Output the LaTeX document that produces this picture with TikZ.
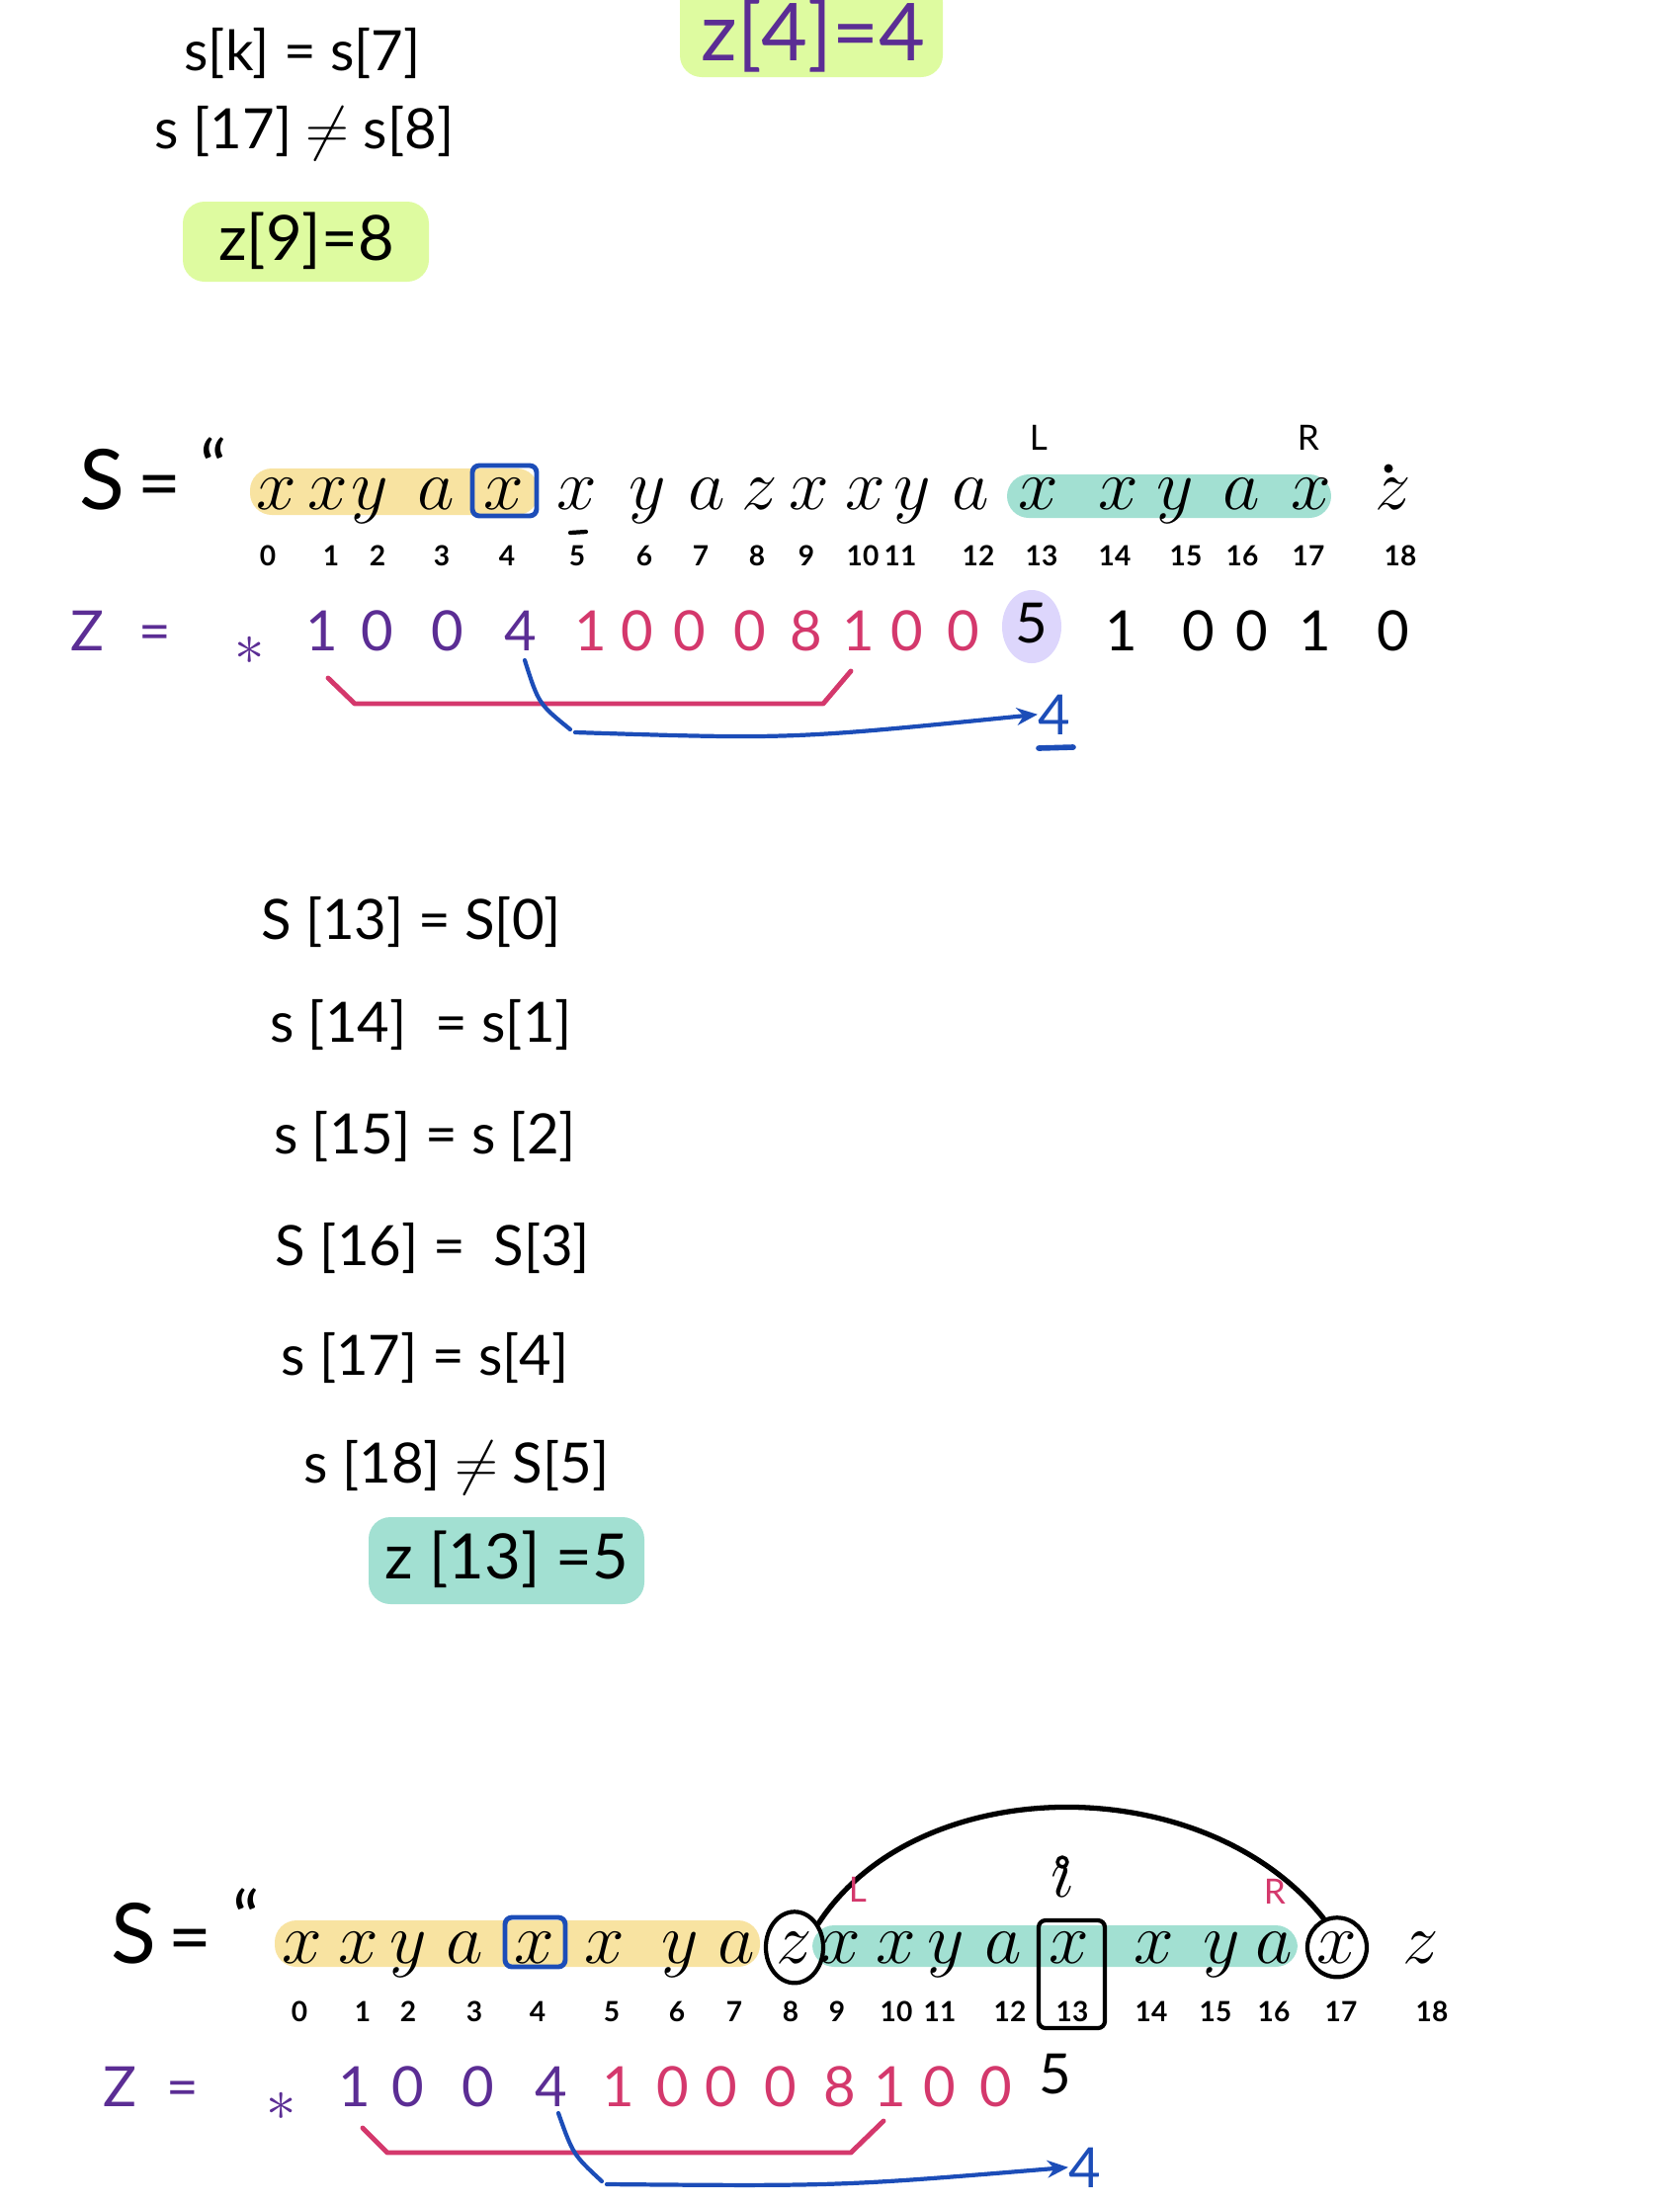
\documentclass[tikz,border=0pt]{standalone}
\usepackage[no-math]{fontspec}
\setmainfont{Lato}
\usetikzlibrary{arrows.meta,calc,shapes.geometric}
\definecolor{hlyellow}{HTML}{F8E3A1}
\definecolor{hlteal}{HTML}{A2E0D2}
\definecolor{hllime}{HTML}{DEFBA0}
\definecolor{hllav}{HTML}{DDD6FC}
\definecolor{zpurple}{HTML}{5B2D94}
\definecolor{zpink}{HTML}{D4386C}
\definecolor{zblue}{HTML}{1C4DB8}
\begin{document}
\begin{tikzpicture}[x=0.01cm,y=-0.01cm,
  ch/.style={anchor=base,inner sep=0pt,font=\fontsize{21.5}{23}\selectfont},
  big/.style={anchor=base,inner sep=0pt,font=\fontsize{24}{26}\selectfont},
  ix/.style={anchor=base,inner sep=0pt,font=\fontsize{8}{9}\selectfont\bfseries},
  zv/.style={anchor=base,inner sep=0pt,font=\fontsize{16}{17}\selectfont},
  eqn/.style={inner sep=0pt,font=\fontsize{16}{18}\selectfont},
  lbl/.style={anchor=base,inner sep=0pt,font=\fontsize{10}{11}\selectfont},
  pen/.style={line width=1.2pt,line cap=round,line join=round},
  hl/.style={rounded corners=0.22cm},
]
\useasboundingbox (0,0) rectangle (1700,2232);

% ---------- top notes ----------
\node[eqn] (t1) at (306,54) {s[k] = s[7]};
\node[eqn] (t2) at (308,135) {s [17] $\neq$ s[8]};
\fill[hllime,hl] (185,204) rectangle (434,285);
\node[eqn,font=\fontsize{18}{20}\selectfont] (t3) at (310,244) {z[9]=8};
\fill[hllime,hl] (688,-20) rectangle (954,78);
\node[eqn,text=zpurple,font=\fontsize{23}{25}\selectfont] (t4) at (823,36) {z[4]=4};

% ---------- first string ----------
\fill[hlyellow,hl] (253,474) rectangle (545,521);
\fill[hlteal,hl] (1019,480) rectangle (1347,524);
\fill[hllav] (1044,634) ellipse [x radius=0.30cm, y radius=0.37cm];

\node[big] (sla) at (103,515) {S};
\node[ch] (sea) at (161,515) {=};
\node[ch] (sqa) at (216,500) {“};
\foreach \p/\c [count=\i from 0] in {280/x,332/x,374/y,441/a,510/x,584/x,655/y,715/a,769/z,819/x,876/x,923/y,982/a,1051/x,1132/x,1189/y,1256/a,1327/x,1410/z}
  \node[ch] (sa\i) at (\p,515) {$\c$};
\fill (1405,474) circle [radius=0.045cm];
\draw[zblue,pen,line width=1.4pt,rounded corners=2pt] (478,471) rectangle (543,522);
\coordinate (ula) at (577,539); \coordinate (ulb) at (593,538);
\draw[pen] (ula) -- (ulb);
\node[lbl] (La) at (1051,455) {L};
\node[lbl] (Ra) at (1324,455) {R};

\foreach \p [count=\i from 0] in {271,335,382,447,513,584,652,709,766,816,873,911,990,1054,1128,1200,1257,1324,1417}
  \node[ix] (ia\i) at (\p,572) {\i};

\node[zv,text=zpurple] (zla) at (88,658) {Z};
\node[zv,text=zpurple] (zea) at (157,658) {=};
\node[zv,text=zpurple] (za0) at (253,672) {$\ast$};
\foreach \p/\v [count=\i from 1] in {326/1,382/0,453/0,527/4}
  \node[zv,text=zpurple] (za\i) at (\p,658) {\v};
\foreach \p/\v [count=\i from 5] in {598/1,645/0,698/0,759/0,816/8,869/1,918/0,975/0}
  \node[zv,text=zpink] (za\i) at (\p,658) {\v};
\node[zv] (za13) at (1044,650) {5};
\foreach \p/\v [count=\i from 14] in {1135/1,1213/0,1267/0,1331/1,1410/0}
  \node[zv] (za\i) at (\p,658) {\v};

\coordinate (pa1) at (332,686); \coordinate (pa2) at (359,712);
\coordinate (pa3) at (833,712); \coordinate (pa4) at (861,679);
\draw[pen,zpink,line width=1.4pt] (pa1) -- (pa2) -- (pa3) -- (pa4);
\node[zv,text=zblue] (ba) at (1067,743) {4};
\coordinate (bua) at (1051,757); \coordinate (bub) at (1086,756);
\draw[pen,zblue,line width=1.6pt] (bua) -- (bub);
\coordinate (ba1) at (531,668); \coordinate (ba2) at (577,738); \coordinate (ba3) at (582,741);
\draw[pen,zblue] (ba1) .. controls (545,712) .. (ba2);
\draw[pen,zblue,-{Stealth[length=6pt,width=5pt]}] (ba3) .. controls (800,748) .. (ba.west);

% ---------- middle equations ----------
\node[eqn] (m1) at (416,933) {S [13] = S[0]};
\node[eqn] (m2) at (426,1037) {s [14] \ = s[1]};
\node[eqn] (m3) at (430,1150) {s [15] = s [2]};
\node[eqn] (m4) at (438,1263) {S [16] = \ S[3]};
\node[eqn] (m5) at (430,1374) {s [17] = s[4]};
\node[eqn] (m6) at (462,1485) {s [18] $\neq$ S[5]};
\fill[hlteal,hl] (373,1535) rectangle (652,1623);
\node[eqn,font=\fontsize{18}{20}\selectfont] (m7) at (513,1578) {z [13] =5};

% ---------- second string ----------
\fill[hlyellow,hl] (278,1943) rectangle (769,1990);
\fill[hlteal,hl] (822,1948) rectangle (1313,1990);

\node[big] (slb) at (135,1986) {S};
\node[ch] (seb) at (192,1986) {=};
\node[ch] (sqb) at (249,1968) {“};
\foreach \p/\c [count=\i from 0] in {306/x,363/x,413/y,470/a,541/x,612/x,688/y,745/a}
  \node[ch] (sb\i) at (\p,1986) {$\c$};
\node[ch,draw,pen,ellipse,minimum width=0.58cm,minimum height=0.72cm] (sb8) at (804,1986) {$z$};
\foreach \p/\c [count=\i from 9] in {851/x,907/x,957/y,1015/a,1082/x,1168/x,1236/y,1289/a}
  \node[ch] (sb\i) at (\p,1986) {$\c$};
\node[ch,draw,pen,circle,minimum size=0.60cm] (sb17) at (1353,1986) {$x$};
\node[ch] (sb18) at (1438,1986) {$z$};
\draw[zblue,pen,line width=1.4pt,rounded corners=2pt] (511,1940) rectangle (572,1990);
\draw[pen,line width=1.5pt] (sb8.45) .. controls (930,1790) and (1220,1790) .. (sb17.115);
\node[lbl,text=zpink] (Lb) at (868,1924) {L};
\node[lbl,text=zpink] (Rb) at (1290,1926) {R};
\node[ch] (ip) at (1075,1919) {$\imath$};
\draw[pen,line width=1pt] (1075,1884) circle [radius=0.05cm];

\foreach \p [count=\i from 0] in {303,367,413,480,544,619,685,743,800,847,907,951,1022,1085,1165,1230,1289,1357,1449}
  \node[ix] (ib\i) at (\p,2045) {\i};
\draw[pen,rounded corners=2pt] (1051,1943) rectangle (1118,2052);

\node[zv,text=zpurple] (zlb) at (121,2131) {Z};
\node[zv,text=zpurple] (zeb) at (185,2131) {=};
\node[zv,text=zpurple] (zb0) at (285,2145) {$\ast$};
\foreach \p/\v [count=\i from 1] in {359/1,413/0,484/0,558/4}
  \node[zv,text=zpurple] (zb\i) at (\p,2131) {\v};
\foreach \p/\v [count=\i from 5] in {626/1,681/0,730/0,790/0,850/8,901/1,951/0,1008/0}
  \node[zv,text=zpink] (zb\i) at (\p,2131) {\v};
\node[zv] (zb13) at (1068,2118) {5};

\coordinate (pb1) at (367,2153); \coordinate (pb2) at (392,2178);
\coordinate (pb3) at (861,2178); \coordinate (pb4) at (894,2146);
\draw[pen,zpink,line width=1.4pt] (pb1) -- (pb2) -- (pb3) -- (pb4);
\node[zv,text=zblue] (bb) at (1098,2213) {4};
\coordinate (bb1) at (565,2138); \coordinate (bb2) at (609,2207); \coordinate (bb3) at (614,2210);
\draw[pen,zblue] (bb1) .. controls (580,2180) .. (bb2);
\draw[pen,zblue,-{Stealth[length=6pt,width=5pt]}] (bb3) .. controls (850,2212) .. (bb.west);
\end{tikzpicture}
\end{document}
